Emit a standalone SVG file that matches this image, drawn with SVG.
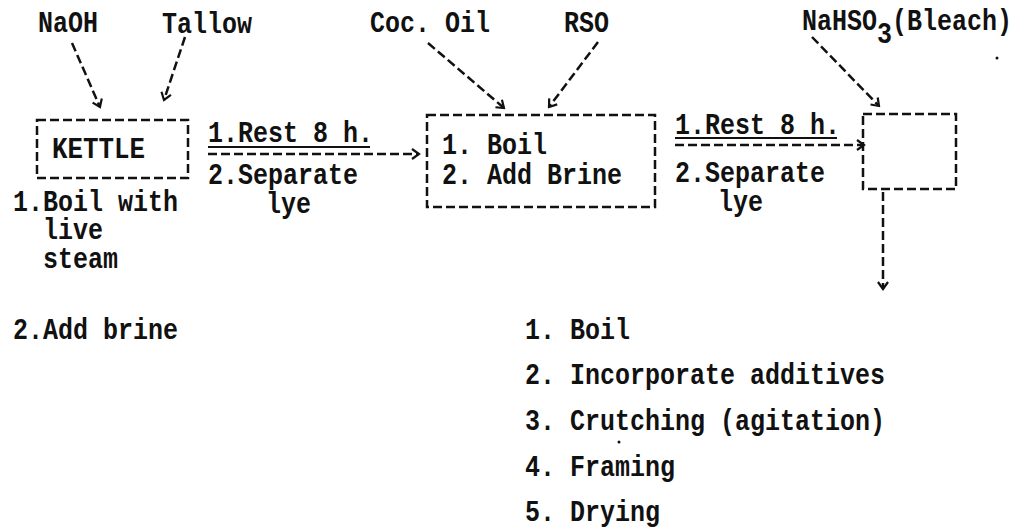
<svg xmlns="http://www.w3.org/2000/svg" width="1019" height="528" viewBox="0 0 1019 528">
<defs>
<style>
text{font-family:"Liberation Mono","DejaVu Sans Mono",monospace;font-weight:bold;font-size:25px;fill:#111}
.box{fill:none;stroke:#111;stroke-width:2.5;stroke-dasharray:9 4}
.con{fill:none;stroke:#111;stroke-width:2.5;stroke-dasharray:9 4;marker-end:url(#ah)}
.ul{stroke:#111;stroke-width:1.8}
</style>
<marker id="ah" viewBox="0 0 12 12" refX="10" refY="6" markerWidth="12" markerHeight="12" markerUnits="userSpaceOnUse" orient="auto">
<path d="M3,1 L10,6 L3,11" fill="none" stroke="#111" stroke-width="2.2"/>
</marker>
</defs>
<rect width="1019" height="528" fill="#fff"/>
<g id="inputs">
<text x="38" y="0" transform="matrix(1 0 0 1.2 0 32)">NaOH</text>
<text x="162" y="0" transform="matrix(1 0 0 1.2 0 33)">Tallow</text>
<text x="370" y="0" transform="matrix(1 0 0 1.2 0 32)">Coc. Oil</text>
<text x="564" y="0" transform="matrix(1 0 0 1.2 0 32)">RSO</text>
<text x="802" y="0" transform="matrix(1 0 0 1.2 0 30)">NaHSO<tspan dy="11">3</tspan><tspan dy="-11">(Bleach)</tspan></text>
</g>
<g id="kettle">
<rect class="box" x="37" y="120" width="151" height="58"/>
<text x="52" y="0" transform="matrix(1 0 0 1.2 0 158)" textLength="93" lengthAdjust="spacingAndGlyphs" font-size="26">KETTLE</text>
</g>
<g id="kettle-notes">
<text x="13" y="0" transform="matrix(1 0 0 1.2 0 211)">1.Boil with</text>
<text x="43" y="0" transform="matrix(1 0 0 1.2 0 239)">live</text>
<text x="43" y="0" transform="matrix(1 0 0 1.2 0 268)">steam</text>
<text x="13" y="0" transform="matrix(1 0 0 1.2 0 339)">2.Add brine</text>
</g>
<g id="boiler">
<rect class="box" x="427" y="115" width="228" height="92"/>
<text x="442" y="0" transform="matrix(1 0 0 1.2 0 154)">1. Boil</text>
<text x="442" y="0" transform="matrix(1 0 0 1.2 0 184)">2. Add Brine</text>
</g>
<g id="bleach-tank">
<rect class="box" x="863" y="114" width="93" height="75"/>
</g>
<g id="step1">
<text x="208" y="0" transform="matrix(1 0 0 1.2 0 142)">1.Rest 8 h.</text>
<line class="ul" x1="208" y1="147" x2="370" y2="147"/>
<text x="208" y="0" transform="matrix(1 0 0 1.2 0 184)">2.Separate</text>
<text x="266" y="0" transform="matrix(1 0 0 1.2 0 213)">lye</text>
</g>
<g id="step2">
<text x="675" y="0" transform="matrix(1 0 0 1.2 0 134)">1.Rest 8 h.</text>
<line class="ul" x1="675" y1="138" x2="837" y2="138"/>
<text x="675" y="0" transform="matrix(1 0 0 1.2 0 182)">2.Separate</text>
<text x="718" y="0" transform="matrix(1 0 0 1.2 0 211)">lye</text>
</g>
<g id="finishing">
<text x="525" y="0" transform="matrix(1 0 0 1.2 0 339)">1. Boil</text>
<text x="525" y="0" transform="matrix(1 0 0 1.2 0 384)">2. Incorporate additives</text>
<text x="525" y="0" transform="matrix(1 0 0 1.2 0 430)">3. Crutching (agitation)</text>
<text x="525" y="0" transform="matrix(1 0 0 1.2 0 476)">4. Framing</text>
<text x="525" y="0" transform="matrix(1 0 0 1.2 0 521)">5. Drying</text>
</g>
<g id="connectors">
<path class="con" d="M72,43 L100,107"/>
<path class="con" d="M185,37 L164,100"/>
<path class="con" d="M428,43 L504,108"/>
<path class="con" d="M598,42 L549,107"/>
<path class="con" d="M812,37 L879,106"/>
<path class="con" d="M208,154 L419,154"/>
<path class="con" d="M675,145 L864,145"/>
<path class="con" d="M883,192 L883,289"/>
</g>
<g id="specks">
<circle cx="997" cy="58" r="1.5" fill="#111"/>
<circle cx="619" cy="442" r="1.5" fill="#111"/>
</g>
</svg>
